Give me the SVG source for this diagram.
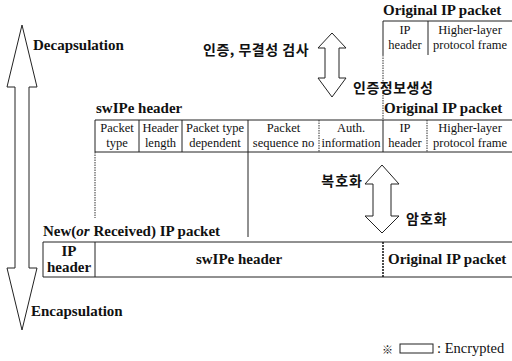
<svg xmlns="http://www.w3.org/2000/svg" width="512" height="361" viewBox="0 0 512 361">
<style>
.hd{font-family:"Liberation Serif","DejaVu Serif",serif;font-weight:bold;font-size:15px;fill:#111}
.tx{font-family:"Liberation Serif","DejaVu Serif",serif;font-size:12.5px;fill:#111;text-anchor:middle}
.kr{font-family:"Noto Sans CJK KR","Noto Sans",sans-serif;font-weight:bold;font-size:14px;fill:#111}
.ln{stroke:#222;stroke-width:1;fill:none}
.dt{stroke:#333;stroke-width:1;fill:none;stroke-dasharray:1.5 1}
.ar{fill:#fff;stroke:#222;stroke-width:1;stroke-linejoin:miter}
</style>
<rect width="512" height="361" fill="#fff"/>

<g id="connectors">
  <polygon class="ar" points="22,25 37,87 29,87 29,268 37,268 22,330 7,268 15,268 15,87 7,87"/>
  <polygon class="ar" points="332,33 346,48 339,48 339,78 346,78 332,97 318,78 325,78 325,48 318,48"/>
  <polygon class="ar" points="382,165 399,184 391,184 391,216 399,216 382,233 365,216 373,216 373,184 365,184"/>
  <line class="dt" x1="383" y1="55" x2="383" y2="120"/>
  <line class="dt" x1="95" y1="152" x2="95" y2="218"/>
  <line class="ln" x1="248" y1="152" x2="248" y2="237" stroke="#666"/>
</g>

<g id="labels">
  <text class="hd" x="33" y="50">Decapsulation</text>
  <text class="hd" x="31" y="316">Encapsulation</text>
  <text class="kr" x="203" y="55" letter-spacing="0.5">인증, 무결성 검사</text>
  <text class="kr" x="353" y="93" letter-spacing="0.5">인증정보생성</text>
  <text class="kr" x="363" y="186" text-anchor="end" letter-spacing="1">복호화</text>
  <text class="kr" x="406" y="224" letter-spacing="1">암호화</text>
</g>

<g id="original-ip-packet">
  <text class="hd" x="383" y="15">Original IP packet</text>
  <path class="ln" d="M383,55 V21 H512 M428,21 V55"/>
  <text class="tx" x="405" y="34">IP</text>
  <text class="tx" x="405" y="49">header</text>
  <text class="tx" x="470" y="34">Higher-layer</text>
  <text class="tx" x="470" y="49">protocol frame</text>
</g>

<g id="swipe-packet">
  <text class="hd" x="96" y="113">swIPe header</text>
  <text class="hd" x="384" y="113">Original IP packet</text>
  <path class="ln" d="M95,120 H512 M95,152 H512 M95,120 V152 M139,120 V152 M182,120 V152 M248,120 V152 M383,120 V152"/>
  <path class="dt" d="M319,120 V152 M427,120 V152"/>
  <text class="tx" x="117" y="132">Packet</text>
  <text class="tx" x="117" y="147">type</text>
  <text class="tx" x="160.5" y="132">Header</text>
  <text class="tx" x="160.5" y="147">length</text>
  <text class="tx" x="215" y="132">Packet type</text>
  <text class="tx" x="215" y="147">dependent</text>
  <text class="tx" x="283.5" y="132">Packet</text>
  <text class="tx" x="283.5" y="147">sequence no</text>
  <text class="tx" x="351" y="132">Auth.</text>
  <text class="tx" x="351" y="147">information</text>
  <text class="tx" x="405" y="132">IP</text>
  <text class="tx" x="405" y="147">header</text>
  <text class="tx" x="470" y="132">Higher-layer</text>
  <text class="tx" x="470" y="147">protocol frame</text>
</g>

<g id="new-ip-packet">
  <text class="hd" x="43" y="236">New(<tspan font-style="italic">or</tspan> Received) IP packet</text>
  <path class="ln" d="M43,242 H512 M43,277 H512 M43,242 V277 M95,242 V277"/>
  <line x1="383" y1="242" x2="383" y2="277" stroke="#111" stroke-width="1.5" stroke-dasharray="2 1"/>
  <text class="hd" x="69" y="256" text-anchor="middle" font-size="14.5">IP</text>
  <text class="hd" x="69" y="272" text-anchor="middle" font-size="14.5">header</text>
  <text class="hd" x="239" y="264" text-anchor="middle">swIPe header</text>
  <text class="hd" x="388" y="264">Original IP packet</text>
</g>

<g id="legend">
  <text x="382" y="354" font-family="'Noto Sans CJK KR',sans-serif" font-size="11" fill="#111">※</text>
  <rect x="400" y="344" width="33" height="9" class="ln"/>
  <text x="437" y="353" font-family="'Liberation Serif',serif" font-size="14.5" fill="#111">: Encrypted</text>
</g>
</svg>
